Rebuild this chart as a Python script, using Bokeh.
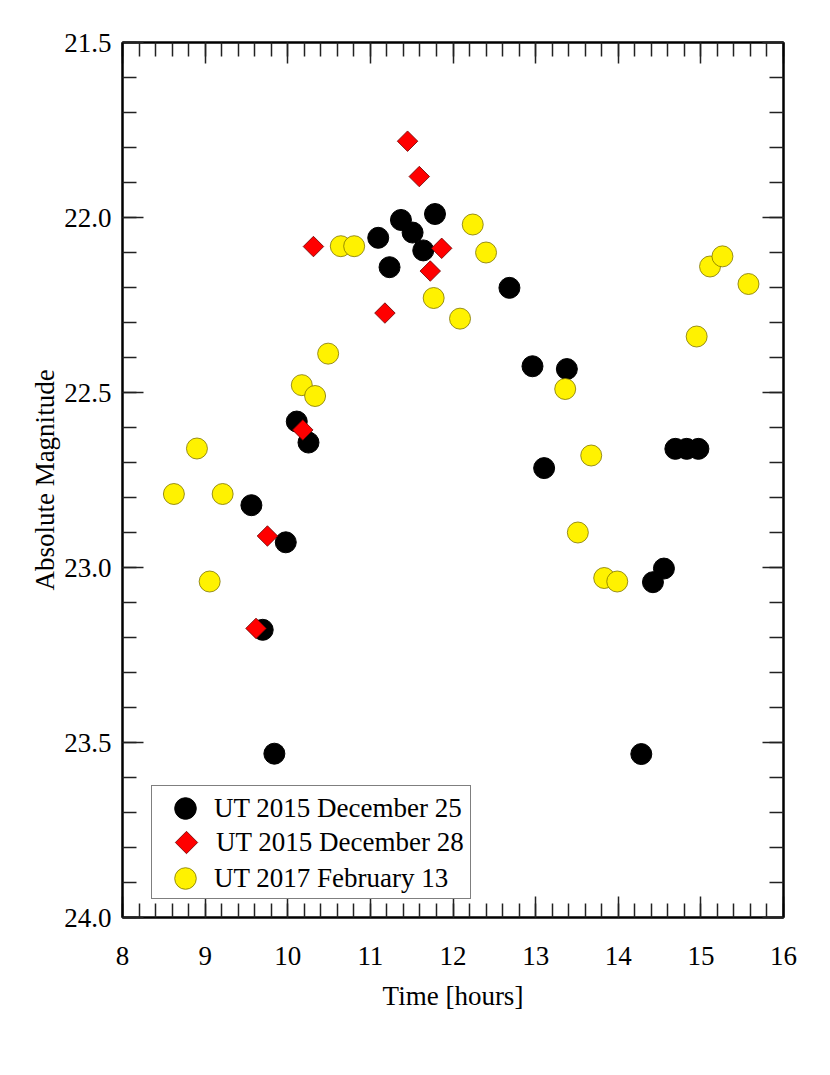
import numpy as np
from bokeh.plotting import figure
from bokeh.models import (Range1d, LinearAxis, SingleIntervalTicker, PrintfTickFormatter,
                          CustomJSTickFormatter, Legend, LegendItem)
from bokeh.embed import file_html
from bokeh.resources import INLINE

# ---- data ----
dec25_time = [9.560, 9.697, 9.838, 9.976, 10.109, 10.251, 11.095, 11.232, 11.370, 11.511,
              11.640, 11.782, 12.683, 12.962, 13.103, 13.378, 14.279, 14.420, 14.553,
              14.691, 14.828, 14.970]
dec25_mag = [22.822, 23.178, 23.532, 22.928, 22.583, 22.643, 22.058, 22.142, 22.007, 22.043,
             22.094, 21.990, 22.201, 22.425, 22.716, 22.433, 23.533, 23.042, 23.003,
             22.661, 22.661, 22.661]

dec28_time = [9.616, 9.754, 10.182, 10.311, 11.176, 11.450, 11.592, 11.725, 11.863]
dec28_mag = [23.174, 22.910, 22.607, 22.083, 22.273, 21.782, 21.883, 22.153, 22.088]

feb13_time = [8.622, 8.901, 9.055, 9.212, 10.170, 10.331, 10.489, 10.642, 10.804, 11.766,
              12.085, 12.239, 12.400, 13.358, 13.511, 13.673, 13.830, 13.988, 14.949,
              15.111, 15.261, 15.576]
feb13_mag = [22.790, 22.660, 23.040, 22.790, 22.479, 22.510, 22.389, 22.082, 22.082, 22.230,
             22.289, 22.020, 22.100, 22.490, 22.900, 22.680, 23.030, 23.040, 22.340,
             22.140, 22.111, 22.190]

labels = ["UT 2015 December 25", "UT 2015 December 28", "UT 2017 February 13"]
x_label = "Time [hours]"
y_label = "Absolute Magnitude"

FONT = "Liberation Serif"
FS = "27px"

p = figure(width=814, height=1050, x_range=Range1d(8, 16), y_range=Range1d(24.0, 21.5),
           output_backend="svg", toolbar_location=None,
           min_border_left=122, min_border_right=31, min_border_top=42, min_border_bottom=133,
           background_fill_color="white", border_fill_color="white")
p.xgrid.visible = False
p.ygrid.visible = False
p.outline_line_color = "black"
p.outline_line_width = 2


def style(ax):
    ax.axis_line_color = "black"
    ax.axis_line_width = 2
    ax.major_tick_in = 21
    ax.major_tick_out = 0
    ax.minor_tick_in = 14
    ax.minor_tick_out = 0
    ax.major_tick_line_color = "#222222"
    ax.major_tick_line_width = 1.5
    ax.minor_tick_line_color = "#222222"
    ax.minor_tick_line_width = 1.5
    ax.major_label_text_font = FONT
    ax.major_label_text_font_size = FS
    ax.major_label_text_color = "black"
    ax.axis_label_text_font = FONT
    ax.axis_label_text_font_size = FS
    ax.axis_label_text_font_style = "normal"
    ax.axis_label_text_color = "black"


xa = p.xaxis[0]
xa.ticker = SingleIntervalTicker(interval=1, num_minor_ticks=5)
style(xa)
xa.major_label_standoff = 29
xa.axis_label = x_label
xa.axis_label_standoff = 13

ya = p.yaxis[0]
ya.ticker = SingleIntervalTicker(interval=0.5, num_minor_ticks=5)
ya.formatter = PrintfTickFormatter(format="%.1f")
style(ya)
ya.major_label_standoff = 11
ya.axis_label = y_label
ya.axis_label_standoff = 1

blank = CustomJSTickFormatter(code="return ''")
top = LinearAxis(ticker=SingleIntervalTicker(interval=1, num_minor_ticks=5), formatter=blank)
style(top)
p.add_layout(top, "above")
right = LinearAxis(ticker=SingleIntervalTicker(interval=0.5, num_minor_ticks=5), formatter=blank)
style(right)
p.add_layout(right, "right")

RED, RED_EDGE = "#ff0000", "#6a0000"
YEL, YEL_EDGE = "#fff200", "#7d7400"

r1 = p.scatter(dec25_time, dec25_mag, marker="circle", size=21,
               fill_color="black", line_color="black")
# legend key for the diamond symbol (zero size in the plot; the legend sizes it itself)
r2_key = p.ngon(dec28_time, dec28_mag, radius=0, n=4, fill_color=RED,
                line_color=RED_EDGE, line_width=0.8)
r2 = p.scatter(dec28_time, dec28_mag, marker="square", angle=np.pi / 4, size=14.5,
               fill_color=RED, line_color=RED_EDGE, line_width=0.8)
r3 = p.scatter(feb13_time, feb13_mag, marker="circle", size=21,
               fill_color=YEL, line_color=YEL_EDGE, line_width=0.8)

# legend frame + diamond entry
leg2 = Legend(items=[LegendItem(label=labels[1], renderers=[r2_key])],
              location=(29, 18), padding=6, margin=0, spacing=0,
              glyph_width=56, glyph_height=100, label_height=20, label_standoff=2,
              label_width=200,
              border_line_color="black", border_line_width=1.5,
              background_fill_color="white", background_fill_alpha=1.0,
              label_text_font=FONT, label_text_font_size=FS, label_text_color="black")
# circle entries
leg1 = Legend(items=[LegendItem(label=labels[0], renderers=[r1]),
                     LegendItem(label=labels[2], renderers=[r3])],
              location=(36, 12), padding=0, margin=0, spacing=16,
              glyph_width=54, glyph_height=54, label_height=20, label_standoff=2,
              border_line_color=None, background_fill_alpha=0.0,
              label_text_font=FONT, label_text_font_size=FS, label_text_color="black")
p.add_layout(leg2)
p.add_layout(leg1)

open("out.html", "w").write(file_html(p, INLINE))
